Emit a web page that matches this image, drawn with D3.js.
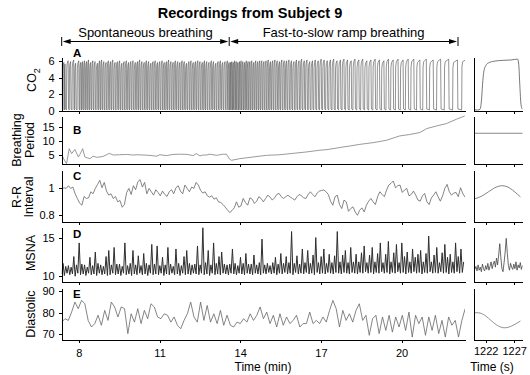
<!DOCTYPE html>
<html>
<head>
<meta charset="utf-8">
<script src="https://cdn.jsdelivr.net/npm/d3@7"></script>
<style>
  body { margin: 0; background: #fff; }
  svg { font-family: "Liberation Sans", Arial, Helvetica, sans-serif; }
  .axis path, .axis line { stroke: #000; stroke-width: 1; shape-rendering: crispEdges; }
  .axis text { font-size: 11px; fill: #000; font-family: "Liberation Sans", Arial, sans-serif; }
  .trace { fill: none; stroke-linejoin: round; }
</style>
</head>
<body>
<svg id="chart" width="530" height="375"></svg>
<script>
// ---- data ----
const xTicksMin = [8, 11, 14, 17, 20];
const xTicksSec = [1222, 1227];
const phaseBounds = [7.36, 13.59, 22.1];
const phaseLabels = ['Spontaneous breathing', 'Fast-to-slow ramp breathing'];

// A: CO2, one entry per breath (duration in s, end-tidal peak in %)
const co2Start = 441.6;
const breathDur = [
  4.9, 2.5, 7.0, 5.5, 6.8, 4.4, 7.0, 4.4, 3.8,
  4.6, 4.4, 4.5, 4.7, 4.9, 5.0, 5.4, 4.8, 4.6, 4.8,
  5.0, 5.1, 5.0, 4.9, 5.1, 5.2, 5.0, 4.9, 5.0, 5.1,
  4.9, 5.0, 5.0, 5.1, 4.9, 4.8, 5.0, 5.1, 4.9, 5.0,
  5.0, 4.8, 4.9, 5.1, 5.0, 5.3, 4.7, 4.9, 5.0, 5.1,
  4.9, 5.0, 5.2, 4.8, 5.0, 4.9, 5.0, 5.3, 4.7, 5.0,
  5.1, 5.0, 4.9, 5.2, 4.8, 5.0, 5.1, 5.3, 4.9, 5.0,
  5.1, 5.2, 5.0, 5.3, 5.2, 3.9,
  3.0, 3.1, 3.2, 3.3, 3.4, 3.5, 3.6, 3.7, 3.8, 3.9,
  3.9, 4.0, 4.1, 4.2, 4.3, 4.4, 4.5, 4.5, 4.6, 4.7,
  4.8, 4.9, 4.9, 5.0, 5.0, 5.1, 5.1, 5.2, 5.3, 5.3,
  5.4, 5.5, 5.6, 5.6, 5.7, 5.8, 5.9, 6.0, 6.1, 6.2,
  6.3, 6.5, 6.6, 6.8, 6.9, 7.1, 7.2, 7.4, 7.6, 7.8,
  8.0, 8.2, 8.4, 8.6, 8.8, 9.0, 9.2, 9.4, 9.6, 9.9,
  10.2, 10.5, 10.9, 11.2, 11.4, 12.6, 13.4, 14.4, 15.4, 16.6,
  18.0, 19.5, 21.0
];
const breathPeak = [
  5.8, 5.6, 6.0, 5.9, 6.1, 5.7, 6.0, 5.8, 5.9, 6.0,
  5.9, 6.1, 5.8, 6.0, 5.9, 5.7, 6.0, 6.1, 5.9, 5.8,
  6.0, 5.9, 6.1, 5.8, 5.9, 6.0, 5.7, 5.9, 6.0, 5.8,
  5.9, 6.0, 5.8, 5.9, 6.1, 5.9, 5.8, 6.0, 5.9, 5.7,
  5.9, 6.0, 5.8, 5.9, 6.0, 5.8, 5.9, 6.1, 5.9, 5.8,
  6.0, 5.9, 5.8, 6.0, 5.9, 5.7, 5.9, 6.0, 5.8, 5.9,
  6.0, 5.9, 5.8, 6.0, 5.9, 5.8, 6.0, 5.9, 5.7, 5.9,
  6.0, 5.8, 5.9, 6.0, 5.8,
  5.8, 5.9, 5.8, 6.0, 5.9, 5.8, 5.9, 6.0, 5.9, 5.8,
  6.0, 5.9, 5.9, 6.0, 5.8, 6.0, 5.9, 6.0, 6.0, 5.9,
  6.0, 6.1, 5.9, 6.0, 6.1, 6.0, 5.9, 6.1, 6.0, 6.0,
  6.1, 6.0, 5.9, 6.1, 6.0, 6.2, 6.0, 6.1, 5.9, 6.0,
  6.1, 6.0, 6.2, 6.1, 6.0, 6.1, 6.2, 6.0, 6.1, 6.2,
  6.1, 6.0, 6.2, 6.1, 6.2, 6.0, 6.1, 6.2, 6.1, 6.0,
  6.2, 6.1, 6.2, 6.1, 6.2, 6.2, 6.1, 6.2, 6.1, 6.2,
  6.2, 6.1, 6.2
];

// B: breathing period (s) vs time (min)
const periodT = [
  7.37, 7.46, 7.54, 7.64, 7.73, 7.85, 7.98, 8.06, 8.14, 8.22,
  8.31, 8.41, 8.53, 8.65, 8.78, 8.9, 9.03, 9.13, 9.28, 9.5,
  9.77, 10.0, 10.2, 10.39, 10.6, 10.89, 11.01, 11.25, 11.5, 11.75,
  12.0, 12.25, 12.37, 12.5, 12.62, 12.75, 12.87, 12.99, 13.12, 13.24,
  13.37, 13.49, 13.59, 13.67, 13.98, 14.48, 14.98, 15.47, 15.97, 16.47,
  16.96, 17.2, 17.45, 17.82, 18.07, 18.45, 18.94, 19.44, 19.93, 20.3,
  20.68, 20.93, 21.3, 21.67, 22.04, 22.35
];
const periodV = [
  4.9, 3.2, 1.9, 7.25, 5.5, 7.0, 4.3, 5.6, 7.25, 4.3,
  4.0, 3.7, 4.6, 4.2, 4.3, 4.5, 5.1, 5.6, 5.0, 5.1,
  5.2, 5.0, 5.1, 5.0, 4.9, 4.6, 5.1, 4.8, 5.2, 5.3,
  5.25, 4.8, 5.5, 4.7, 5.0, 5.0, 5.3, 5.1, 4.9, 5.1,
  5.3, 5.25, 3.7, 3.1, 3.7, 4.3, 4.9, 5.1, 5.6, 6.1,
  6.7, 6.9, 7.25, 7.85, 8.2, 8.8, 9.4, 10.25, 11.8, 12.3,
  13.0, 14.4, 15.35, 16.2, 17.75, 18.9
];

// C: R-R interval (s), sampled every 5 s from 7.36 min
const rrStart = 7.36, rrStep = 1 / 12;
const rr = [
  .99, 1.005, 1.0, 1.02, 1.0, 1.01, .96, .925, .89, .875,
  .94, .925, .93, .975, .96, 1.0, 1.03, 1.06, 1.005, 1.045,
  .98, .95, .96, .925, .94, .9, .91, .86, .88, .97,
  1.0, .955, 1.02, .99, 1.05, 1.065, 1.01, 1.045, .96, 1.0,
  .975, .95, .99, .97, .945, .98, .955, .94, .975, .99,
  .96, 1.005, 1.02, .98, .96, 1.025, 1.0, .975, 1.01, 1.0,
  1.045, 1.025, .985, .965, .975, .945, .935, .945, .92, .93,
  .9, .895, .88, .86, .84, .82, .835, .855, .9, .86,
  .87, .925, .895, .875, .93, .92, .888, .905, .938, .925,
  .9, .925, .95, .935, .913, .93, .955, .963, .938, .925,
  .938, .95, .935, .925, .913, .938, .955, .945, .93, .925,
  .955, .975, .955, .938, .965, .98, .985, .988, .975, .955,
  .905, .875, .938, .95, .88, .85, .913, .9, .83, .85,
  .863, .825, .8, .838, .855, .825, .875, .905, .925, .9,
  .88, .938, .975, .955, .938, .988, 1.025, 1.038, 1.055, 1.005,
  1.02, 1.025, .97, .988, 1.0, .945, .955, .98, .95, .913,
  .905, .945, .963, .9, .88, .93, .95, .975, .938, .905,
  .945, 1.0, 1.03, .975, .95, .965, .97, .938, 1.005, .963,
  .935
];

// D: MSNA, alternating trough/burst samples, one every 3 s from 7.36 min
const msnaStart = 7.36, msnaStep = 0.05;
const msna = [
  10.3,11.7, 10.1,11.3, 10.4,11.4, 10.2,11.2, 10.3,12.6, 10.0,11.5, 10.4,14.4, 10.2,11.6, 10.3,11.5, 10.1,11.2,
  10.4,12.5, 10.2,11.4, 10.3,13.2, 10.1,11.7, 10.4,11.5, 10.2,11.3, 10.3,12.6, 10.1,13.4, 10.2,11.5, 10.4,13.8,
  10.2,11.6, 10.3,11.6, 10.1,11.3, 10.4,14.4, 10.2,11.4, 10.3,11.7, 10.1,13.4, 10.3,11.5, 10.2,12.7, 10.4,11.4,
  10.2,13.0, 10.3,11.7, 10.1,11.5, 10.4,14.2, 10.2,11.6, 10.3,14.0, 10.2,11.4, 10.4,12.5, 10.1,11.5, 10.3,13.8,
  10.2,11.6, 10.4,11.3, 10.2,13.6, 10.3,11.7, 10.1,11.4, 10.4,12.6, 10.2,13.4, 10.3,11.7, 10.2,11.5, 10.4,11.6,
  10.3,14.0, 10.2,11.5, 10.4,16.4, 10.2,11.8, 10.3,13.4, 10.1,11.5, 10.4,14.4, 10.2,11.7, 10.3,12.6, 10.2,13.2,
  10.4,11.6, 10.3,11.5, 10.2,11.6, 10.4,13.6, 10.3,11.7, 10.2,11.4, 10.4,12.5, 10.3,11.7, 10.2,13.0, 10.4,11.6,
  10.3,11.6, 10.2,12.8, 10.4,11.5, 10.3,11.8, 10.2,14.9, 10.4,11.5, 10.3,11.7, 10.5,11.4, 10.3,11.8, 10.4,12.5,
  10.2,11.6, 10.4,13.0, 10.3,11.7, 10.5,12.6, 10.3,11.8, 10.4,15.9, 10.2,11.7, 10.5,12.7, 10.3,11.6, 10.4,13.6,
  10.3,11.8, 10.5,13.4, 10.3,11.7, 10.4,12.8, 10.2,15.1, 10.5,11.8, 10.3,12.6, 10.4,13.6, 10.3,11.7, 10.5,12.9,
  10.4,11.8, 10.3,12.7, 10.5,15.9, 10.4,11.9, 10.3,12.8, 10.5,13.4, 10.4,11.8, 10.3,13.8, 10.5,11.9, 10.4,12.9,
  10.3,11.9, 10.5,13.1, 10.4,14.0, 10.6,11.8, 10.4,12.8, 10.5,13.8, 10.3,11.9, 10.5,13.0, 10.4,14.4, 10.6,11.8,
  10.4,12.9, 10.5,14.6, 10.3,11.9, 10.5,13.1, 10.4,14.2, 10.6,11.8, 10.4,14.4, 10.5,12.6, 10.3,13.2, 10.5,11.9,
  10.4,13.6, 10.6,12.5, 10.4,12.9, 10.5,13.4, 10.3,11.9, 10.5,13.0, 10.4,15.3, 10.6,11.9, 10.4,12.8, 10.5,13.8,
  10.4,11.8, 10.6,13.1, 10.4,14.2, 10.5,12.5, 10.3,12.9, 10.5,11.9, 10.4,14.4, 10.6,12.6, 10.4,13.6, 10.5,11.9
];

// E: diastolic pressure (mmHg), sampled every ~7.4 s from 7.36 min
const diaStart = 7.36, diaStep = 0.123;
const dia = [
  75.6, 77.2, 76.4, 80.3, 85.0, 81.9, 85.8, 84.2, 76.4, 73.3,
  74.9, 78.8, 74.1, 81.1, 76.4, 85.0, 82.7, 78.0, 82.7, 81.9,
  70.2, 79.5, 75.6, 81.9, 74.9, 81.1, 77.2, 84.2, 82.7,
  78.0, 77.2, 79.5, 78.8, 75.6, 78.0, 74.1, 72.5, 76.4, 79.5,
  85.0, 78.0, 75.6, 85.0, 76.4, 83.4, 75.6, 79.5, 74.9, 81.1,
  74.1, 78.8, 74.1, 73.3, 75.6, 74.9, 77.2, 75.6, 79.5, 76.4,
  78.8, 82.7, 77.2, 80.3, 74.9, 78.8, 73.3, 79.5, 74.1, 78.0,
  74.9, 76.4, 78.8, 73.3, 74.9, 74.9, 80.3, 74.9, 76.4, 74.9,
  78.0, 75.6, 81.1, 85.8, 81.9, 73.3, 81.1, 76.4, 79.5, 75.6,
  81.1, 84.2, 76.4, 78.8, 69.4, 77.2, 78.8, 70.2, 78.0, 71.7,
  78.8, 70.9, 78.0, 73.3, 78.8, 71.7, 80.3, 68.6, 78.8, 74.9,
  78.0, 69.4, 78.0, 71.7, 78.8, 70.2, 76.4, 68.6, 78.0, 74.1,
  76.4, 68.6, 76.4, 81.9
];

// right-hand zoom panels, time in s
const zoomCO2 = [[1220, 0.15], [1220.6, 0.12], [1221.0, 0.2], [1221.25, 1.2], [1221.45, 3.2], [1221.65, 4.6],
  [1222.0, 5.4], [1222.5, 5.75], [1223.5, 5.95], [1225, 6.05], [1226.5, 6.1], [1227.6, 6.2],
  [1227.8, 5.6], [1228.0, 3.0], [1228.2, 0.8], [1228.45, 0.2]];
const zoomPeriod = [[1220, 12.75], [1228.5, 12.75]];
const zoomRR = [[1220.1, .923], [1221.6, .95], [1223.4, 1.0], [1224.9, 1.02], [1226.3, 1.0], [1228.1, .937]];
const zoomMsnaStart = 1220.1, zoomMsnaStep = 0.19;
const zoomMsna = [
  10.9, 11.3, 10.7, 11.5, 10.8, 11.2, 10.6, 11.6, 11.0, 10.7,
  11.4, 10.9, 11.7, 10.8, 11.3, 11.9, 11.0, 11.6, 12.0, 11.2,
  12.4, 11.5, 12.8, 14.3, 12.5, 11.0, 10.6, 11.8, 13.2, 15.0,
  13.0, 11.4, 10.8, 11.7, 11.2, 10.9, 11.6, 11.0, 11.9, 10.8,
  11.5, 11.1, 11.8, 10.9, 11.4
];
const zoomDia = [[1220.1, 80], [1221.6, 79.2], [1223.4, 75.3], [1225.0, 73.0], [1226.5, 73.7], [1228.1, 76.1]];

// ---- layout ----
const svg = d3.select('#chart');
const x = d3.scaleLinear().domain([7.36, 22.36]).range([61.7, 465]);
const xr = d3.scaleLinear().domain([1220, 1228.5]).range([474.3, 522.7]);

const panels = [
  { id: 'A', dom: [0, 6.45], top: 57, bot: 111, ticks: [0, 2, 4, 6], letterY: 57, lab: ['CO'], lx: [32], ly: 80 },
  { id: 'B', dom: [1.8, 18.9], top: 116, bot: 164, ticks: [5, 10, 15], letterY: 134, lab: ['Breathing', 'Period'], lx: [16.7, 29.5], ly: 140 },
  { id: 'C', dom: [0.75, 1.137], top: 170, bot: 222, ticks: [0.8, 1], letterY: 179.5, lab: ['R-R', 'Interval'], lx: [16.7, 29], ly: 197 },
  { id: 'D', dom: [9.24, 16.5], top: 227, bot: 282, ticks: [10, 15], letterY: 237.5, lab: ['MSNA'], lx: [31], ly: 253 },
  { id: 'E', dom: [67.2, 91.6], top: 288, bot: 340, ticks: [70, 80, 90], letterY: 297.5, lab: ['Diastolic'], lx: [31], ly: 314 },
];
const Y = {};
panels.forEach(p => { Y[p.id] = d3.scaleLinear().domain(p.dom).range([p.bot, p.top]); });

svg.append('clipPath').attr('id', 'clipMain')
  .append('rect').attr('x', x.range()[0]).attr('y', 45).attr('width', x.range()[1] - x.range()[0]).attr('height', 300);
svg.append('clipPath').attr('id', 'clipZoom')
  .append('rect').attr('x', xr.range()[0]).attr('y', 45).attr('width', xr.range()[1] - xr.range()[0]).attr('height', 300);

const main = svg.append('g').attr('clip-path', 'url(#clipMain)');
const zoomG = svg.append('g').attr('clip-path', 'url(#clipZoom)');

// A: build breath-by-breath CO2 waveform
const co2Pts = [];
{
  let t0 = co2Start;
  co2Pts.push([t0, breathPeak[0] * 0.97]);
  breathDur.forEach((p, i) => {
    const h = breathPeak[i];
    const drop = Math.min(0.15 * p, 1.0), rise = Math.min(0.1 * p, 0.7);
    const lowEnd = t0 + 0.45 * p;
    co2Pts.push([t0 + drop, 0.25], [lowEnd, 0.12], [lowEnd + rise, 0.85 * h],
      [lowEnd + rise + Math.min(0.15 * p, 1.5), 0.95 * h], [t0 + p, h]);
    t0 += p;
  });
}
main.append('path').attr('class', 'trace')
  .attr('d', d3.line().x(d => x(d[0] / 60)).y(d => Y.A(d[1]))(co2Pts))
  .attr('stroke', '#4a4a4a').attr('stroke-width', 0.6);

// B
main.append('path').attr('class', 'trace')
  .attr('d', d3.line().x((d, i) => x(periodT[i])).y(d => Y.B(d))(periodV))
  .attr('stroke', '#808080').attr('stroke-width', 0.8);

// C
main.append('path').attr('class', 'trace')
  .attr('d', d3.line().x((d, i) => x(rrStart + i * rrStep)).y(d => Y.C(d))(rr))
  .attr('stroke', '#666').attr('stroke-width', 0.8);

// D
main.append('path').attr('class', 'trace')
  .attr('d', d3.line().x((d, i) => x(msnaStart + i * msnaStep)).y(d => Y.D(d))(msna))
  .attr('stroke', '#2e2e2e').attr('stroke-width', 1.0);

// E
main.append('path').attr('class', 'trace')
  .attr('d', d3.line().x((d, i) => x(diaStart + i * diaStep)).y(d => Y.E(d))(dia))
  .attr('stroke', '#666').attr('stroke-width', 0.8);

// zoom traces
const zl = key => d3.line().x(d => xr(d[0])).y(d => Y[key](d[1]));
zoomG.append('path').attr('class', 'trace').attr('d', zl('A').curve(d3.curveMonotoneX)(zoomCO2))
  .attr('stroke', '#555').attr('stroke-width', 0.8);
zoomG.append('path').attr('class', 'trace').attr('d', zl('B')(zoomPeriod))
  .attr('stroke', '#888').attr('stroke-width', 1);
zoomG.append('path').attr('class', 'trace').attr('d', zl('C').curve(d3.curveNatural)(zoomRR))
  .attr('stroke', '#666').attr('stroke-width', 0.8);
zoomG.append('path').attr('class', 'trace')
  .attr('d', d3.line().x((d, i) => xr(zoomMsnaStart + i * zoomMsnaStep)).y(d => Y.D(d))(zoomMsna))
  .attr('stroke', '#444').attr('stroke-width', 0.8);
zoomG.append('path').attr('class', 'trace').attr('d', zl('E').curve(d3.curveNatural)(zoomDia))
  .attr('stroke', '#777').attr('stroke-width', 0.8);

// axes
const plain = d => String(d);
panels.forEach(p => {
  const y = Y[p.id];
  const isLast = p.id === 'E';

  svg.append('g').attr('class', 'axis')
    .attr('transform', `translate(${x.range()[0]},0)`)
    .call(d3.axisLeft(y).tickValues(p.ticks).tickSize(3).tickSizeOuter(0).tickPadding(4).tickFormat(plain));

  svg.append('g').attr('class', 'axis')
    .attr('transform', `translate(0,${p.bot})`)
    .call(d3.axisBottom(x).tickValues(xTicksMin).tickSize(3).tickSizeOuter(0).tickPadding(6)
      .tickFormat(isLast ? plain : () => ''));

  const ra = svg.append('g').attr('class', 'axis')
    .attr('transform', `translate(${xr.range()[0]},0)`)
    .call(d3.axisLeft(y).tickValues([]).tickSizeOuter(0));
  if (p.id === 'A') ra.select('path').attr('stroke', '#999');

  svg.append('g').attr('class', 'axis')
    .attr('transform', `translate(0,${p.bot})`)
    .call(d3.axisBottom(xr).tickValues(xTicksSec).tickSize(3).tickSizeOuter(0).tickPadding(4)
      .tickFormat(isLast ? plain : () => ''));

  // panel letter
  svg.append('text').attr('x', 73).attr('y', p.letterY)
    .attr('font-size', 11.5).attr('font-weight', 'bold').text(p.id);

  // y label(s)
  p.lab.forEach((s, i) => {
    const t = svg.append('text')
      .attr('transform', `translate(${p.lx[i]},${p.ly}) rotate(-90)`)
      .attr('text-anchor', 'middle').attr('dy', '0.35em').attr('font-size', 12.5);
    t.append('tspan').text(s);
    if (p.id === 'A') t.append('tspan').attr('font-size', 9).attr('dy', '0.35em').text('2');
  });
});

// x titles
svg.append('text').attr('x', 263).attr('y', 371).attr('text-anchor', 'middle')
  .attr('font-size', 12).text('Time (min)');
svg.append('text').attr('x', 492).attr('y', 371).attr('text-anchor', 'middle')
  .attr('font-size', 12).text('Time (s)');

// title
svg.append('text').attr('x', 250).attr('y', 18).attr('text-anchor', 'middle')
  .attr('font-size', 14.5).attr('font-weight', 'bold').text('Recordings from Subject 9');

// phase arrows
const ay = 41.5;
const arrow = svg.append('g').attr('stroke', '#000').attr('fill', '#000');
phaseBounds.forEach(b => {
  arrow.append('line').attr('x1', x(b)).attr('x2', x(b)).attr('y1', ay - 4.5).attr('y2', ay + 4.5)
    .attr('stroke-width', 1);
});
phaseLabels.forEach((lab, i) => {
  const x0 = x(phaseBounds[i]) + 1, x1 = x(phaseBounds[i + 1]) - 1;
  arrow.append('line').attr('x1', x0 + 3).attr('x2', x1 - 3).attr('y1', ay).attr('y2', ay).attr('stroke-width', 1);
  arrow.append('path').attr('stroke', 'none')
    .attr('d', `M${x0},${ay}L${x0 + 8},${ay - 2.5}L${x0 + 8},${ay + 2.5}Z`);
  arrow.append('path').attr('stroke', 'none')
    .attr('d', `M${x1},${ay}L${x1 - 8},${ay - 2.5}L${x1 - 8},${ay + 2.5}Z`);
  svg.append('text').attr('x', (x0 + x1) / 2).attr('y', 36.5).attr('text-anchor', 'middle')
    .attr('font-size', 13).text(lab);
});
</script>
</body>
</html>
